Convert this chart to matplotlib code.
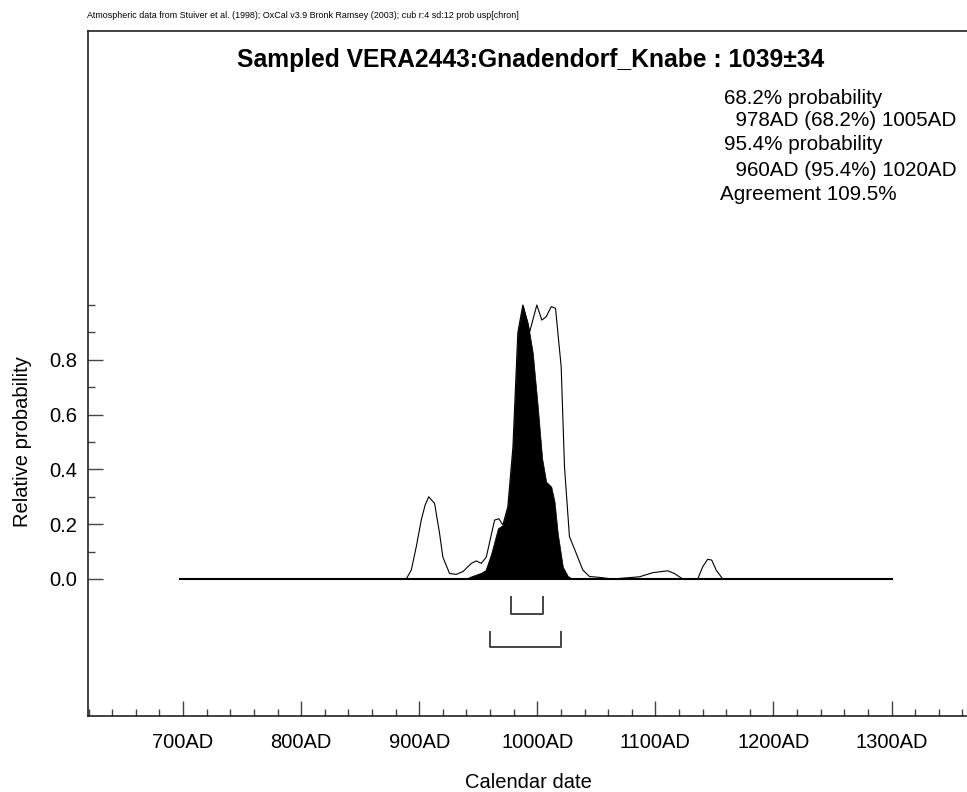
import matplotlib as mpl
import matplotlib.pyplot as plt
import numpy as np

mpl.rcParams['font.family'] = ['Liberation Sans', 'DejaVu Sans']

# 데이터
prior_year = [697, 889, 893.3, 897.5, 901.7, 905, 908, 913, 917.2, 920, 925.7, 931.4, 937,
              944.1, 948.3, 952.5, 956.8, 963.8, 967.4, 970.8, 975, 979.3, 983.5, 987.7,
              993.4, 999.6, 1003.8, 1007.5, 1011.8, 1015.4, 1020.2, 1023, 1027.2, 1032.9,
              1038.5, 1044.2, 1052.6, 1063.6, 1086.5, 1097.7, 1110.4, 1116.1, 1123.1,
              1135.8, 1140.1, 1144.3, 1147.7, 1151.4, 1157, 1300]
prior_prob = [0, 0, 0.033, 0.118, 0.215, 0.27, 0.30, 0.276, 0.167, 0.08, 0.02, 0.017, 0.027,
              0.057, 0.066, 0.057, 0.08, 0.215, 0.22, 0.197, 0.264, 0.48, 0.90, 1.0,
              0.90, 1.0, 0.945, 0.957, 0.994, 0.988, 0.775, 0.41, 0.155, 0.094,
              0.033, 0.009, 0.006, 0, 0.008, 0.023, 0.03, 0.02, 0,
              0, 0.045, 0.072, 0.069, 0.033, 0, 0]

post_year = [938.4, 945.4, 952.5, 956.2, 961, 966.6, 970.8, 975, 979.3, 983.5, 987.7, 992,
             996.2, 1000.4, 1004.1, 1007.5, 1011.8, 1014.6, 1017.3, 1021.6, 1025.8, 1030]
post_prob = [0, 0.012, 0.023, 0.033, 0.094, 0.185, 0.197, 0.264, 0.48, 0.90, 1.0, 0.933,
             0.824, 0.629, 0.44, 0.355, 0.337, 0.282, 0.167, 0.045, 0.011, 0]

range_68 = [978, 1005]
range_95 = [960, 1020]

xtick_years = [700, 800, 900, 1000, 1100, 1200, 1300]
xtick_labels = ['700AD', '800AD', '900AD', '1000AD', '1100AD', '1200AD', '1300AD']
ytick_vals = [0.0, 0.2, 0.4, 0.6, 0.8]

info_lines = ['68.2% probability', '  978AD (68.2%) 1005AD', '95.4% probability',
              '  960AD (95.4%) 1020AD', 'Agreement 109.5%']

fig = plt.figure(figsize=(9.67, 7.92), dpi=100)
ax = fig.add_axes([88 / 967, 76 / 792, 0.9116, 685 / 792])

# 선 그래프 + 채우기
ax.plot(prior_year, prior_prob, color='black', lw=0.8)
ax.plot([prior_year[0], prior_year[-1]], [0, 0], color='black', lw=1.5)
ax.fill_between(post_year, post_prob, color='black', lw=0.5)

# 범위 괄호
for rng, top, bot in [(range_68, -0.067, -0.128), (range_95, -0.192, -0.249)]:
    ax.plot([rng[0], rng[0], rng[1], rng[1]], [top, bot, bot, top], color='#444444', lw=1.4)

ax.set_xlim(619.5, 1366)
ax.set_ylim(-0.5, 2.0)

ax.set_xticks(xtick_years)
ax.set_xticklabels(xtick_labels, fontsize=14.5)
ax.set_xticks(np.arange(620, 1370, 20), minor=True)
ax.set_yticks(ytick_vals)
ax.set_yticklabels(['%.1f' % v for v in ytick_vals], fontsize=14.5)
ax.set_yticks([0.1, 0.3, 0.5, 0.7, 0.9, 1.0], minor=True)
ax.tick_params(axis='both', which='major', direction='in', length=11, width=1, color='#444444')
ax.tick_params(axis='both', which='minor', direction='in', length=5, width=1, color='#444444')
ax.tick_params(axis='x', which='major', pad=12)
ax.tick_params(axis='y', which='major', pad=8)

for s in ax.spines.values():
    s.set_linewidth(1.2)
    s.set_color('#222222')

ax.set_xlabel('Calendar date', fontsize=14.5, labelpad=15)
fig.text(22.7 / 967, 1 - 442 / 792, 'Relative probability', rotation=90, fontsize=14.5,
         ha='center', va='center')

fig.text(87 / 967, 1 - 16 / 792,
         'Atmospheric data from Stuiver et al. (1998); OxCal v3.9 Bronk Ramsey (2003); cub r:4 sd:12 prob usp[chron]',
         fontsize=6.4, ha='left', va='center')
fig.text(531 / 967, 1 - 60 / 792, 'Sampled VERA2443:Gnadendorf_Knabe : 1039±34',
         fontsize=17.7, fontweight='bold', ha='center', va='center')

info_y = [98, 121, 145, 170, 194]
info_x = [724, 724, 724, 724, 720]
for tx, ty, line in zip(info_x, info_y, info_lines):
    fig.text(tx / 967, 1 - ty / 792, line, fontsize=14.9, ha='left', va='center')

plt.savefig('out.png', dpi=100)
